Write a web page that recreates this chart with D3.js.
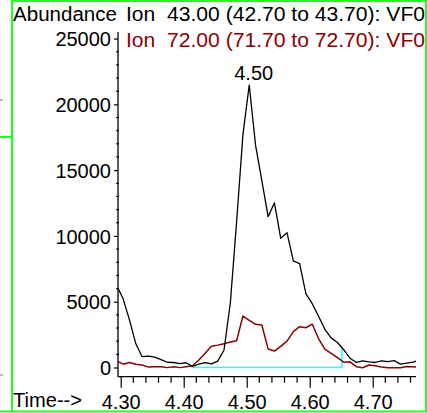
<!DOCTYPE html>
<html>
<head>
<meta charset="utf-8">
<script src="https://cdn.jsdelivr.net/npm/d3@7"></script>
<style>
  html, body { margin: 0; padding: 0; background: #fff; }
  svg { display: block; }
  text { font-family: "Liberation Sans", Arial, sans-serif; }
</style>
</head>
<body>
<svg id="chart" width="427" height="413"></svg>
<script>
// Extracted ion chromatogram: scan times (min) and abundances for two ions
const scanTimes = [4.294, 4.304, 4.314, 4.324, 4.334, 4.344, 4.354, 4.364, 4.374, 4.384,
  4.394, 4.404, 4.414, 4.424, 4.434, 4.444, 4.454, 4.464, 4.474, 4.484,
  4.494, 4.504, 4.514, 4.524, 4.534, 4.544, 4.554, 4.564, 4.574, 4.584,
  4.594, 4.604, 4.614, 4.624, 4.634, 4.644, 4.654, 4.664, 4.674, 4.684,
  4.694, 4.704, 4.714, 4.724, 4.734, 4.744, 4.754, 4.764, 4.774];

const ion43 = [6200, 5200, 3600, 1800, 820, 870, 780, 600, 400, 380,
  300, 360, 80, 250, 370, 280, 480, 1330, 4900, 11100,
  17700, 21470, 16900, 14200, 11460, 12520, 9820, 10240, 8100, 7900,
  5600, 4850, 3900, 2900, 2250, 1900, 1350, 700, 380, 500,
  420, 380, 500, 450, 520, 260, 330, 400, 550];

const ion72 = [500, 250, 380, 250, 190, 30, 60, 60, -10, 60,
  -10, 60, 130, 570, 1090, 1620, 1700, 1810, 1930, 2040,
  3910, 3590, 3280, 3230, 1400, 1250, 1600, 2000, 2720, 3100,
  3020, 3300, 2200, 1400, 1080, 750, 400, 430, 60, -15,
  190, 130, 40, -15, -15, -15, 80, 60, 0];

const traceLabels = ["Ion  43.00 (42.70 to 43.70): VF0", "Ion  72.00 (71.70 to 72.70): VF0"];
const xMajorTicks = [4.30, 4.40, 4.50, 4.60, 4.70];
const yMajorTicks = [0, 5000, 10000, 15000, 20000, 25000];
const integrationStart = 4.412;   // baseline of the integrated peak
const integrationEnd = 4.651;

const svg = d3.select("#chart");
const font = 20;

const x = d3.scaleLinear().domain([4.2957, 4.7687]).range([118, 416]);
const y = d3.scaleLinear().domain([-700, 25500]).range([376.7, 32]);

// outer frame
const green = "#22ff22";
svg.append("rect").attr("x", 12).attr("y", 1).attr("width", 414).attr("height", 410.5)
  .attr("fill", "none").attr("stroke", green).attr("stroke-width", 2);
svg.append("line").attr("x1", 0).attr("x2", 12).attr("y1", 137).attr("y2", 137)
  .attr("stroke", green).attr("stroke-width", 2);
svg.append("line").attr("x1", 0).attr("x2", 12).attr("y1", 411.5).attr("y2", 411.5)
  .attr("stroke", green).attr("stroke-width", 2);
[100, 375].forEach(v => svg.append("line").attr("x1", 0).attr("x2", 3)
  .attr("y1", v).attr("y2", v).attr("stroke", "#777").attr("stroke-width", 1));

// clip for traces
svg.append("clipPath").attr("id", "plotclip").append("rect")
  .attr("x", 118).attr("y", 20).attr("width", 298).attr("height", 357);

// y axis
const yAxis = d3.axisLeft(y).tickValues(yMajorTicks).tickSize(4).tickPadding(3)
  .tickFormat(d3.format("d"));
const gy = svg.append("g").attr("transform", "translate(118,0)").call(yAxis);
gy.select(".domain").attr("d", `M0,${y.range()[1]}V${y.range()[0]}`).attr("stroke-width", 1.3);
gy.selectAll(".tick line").attr("stroke-width", 1.2);
gy.selectAll(".tick text").attr("font-size", font).attr("font-family", "Liberation Sans, Arial, sans-serif")
  .attr("fill", "#000").attr("dy", "0.36em");
const yMinor = d3.range(1000, 25001, 1000).filter(v => v % 5000 !== 0);
svg.append("g").selectAll("line").data(yMinor).join("line")
  .attr("x1", 116).attr("x2", 119).attr("y1", d => y(d)).attr("y2", d => y(d))
  .attr("stroke", "#000").attr("stroke-width", 1);

// x axis
const xAxis = d3.axisBottom(x).tickValues(xMajorTicks).tickSize(11).tickPadding(7)
  .tickFormat(d3.format(".2f"));
const gx = svg.append("g").attr("transform", `translate(0,${y.range()[0]})`).call(xAxis);
gx.select(".domain").attr("d", `M${x.range()[0]},0H${x.range()[1]}`).attr("stroke-width", 1.3);
gx.selectAll(".tick line").attr("stroke-width", 1.2);
gx.selectAll(".tick text").attr("font-size", font).attr("font-family", "Liberation Sans, Arial, sans-serif")
  .attr("fill", "#000");
const xMinor = d3.range(4.32, 4.77, 0.02).filter(v => Math.abs(v * 10 - Math.round(v * 10)) > 1e-6);
svg.append("g").selectAll("line").data(xMinor).join("line")
  .attr("x1", d => x(d)).attr("x2", d => x(d))
  .attr("y1", y.range()[0]).attr("y2", y.range()[0] + 6)
  .attr("stroke", "#000").attr("stroke-width", 1.2);

// axis titles
svg.append("text").attr("x", 13).attr("y", 21).attr("font-size", font)
  .attr("textLength", 104).attr("lengthAdjust", "spacingAndGlyphs").text("Abundance");
svg.append("text").attr("x", 13).attr("y", 407).attr("font-size", font)
  .attr("textLength", 69).attr("lengthAdjust", "spacingAndGlyphs").text("Time-->");

// trace legends
svg.append("text").attr("x", 126).attr("y", 21).attr("font-size", font).attr("fill", "#000")
  .attr("xml:space", "preserve").style("white-space", "pre")
  .attr("textLength", 299).attr("lengthAdjust", "spacingAndGlyphs").text(traceLabels[0]);
svg.append("text").attr("x", 126).attr("y", 47).attr("font-size", font).attr("fill", "#8b0000")
  .attr("xml:space", "preserve").style("white-space", "pre")
  .attr("textLength", 299).attr("lengthAdjust", "spacingAndGlyphs").text(traceLabels[1]);

// traces
const plot = svg.append("g").attr("clip-path", "url(#plotclip)");
const line = vals => d3.line().x((d, i) => x(scanTimes[i])).y(d => y(d))(vals);

// integration baseline
const endHeight = (() => {
  const i = d3.bisectLeft(scanTimes, integrationEnd);
  const t0 = scanTimes[i - 1], t1 = scanTimes[i];
  return ion43[i - 1] + (ion43[i] - ion43[i - 1]) * (integrationEnd - t0) / (t1 - t0);
})();
plot.append("path")
  .attr("d", d3.line().x(d => x(d[0])).y(d => y(d[1]))(
    [[integrationStart, 0], [integrationEnd, 0], [integrationEnd, endHeight]]))
  .attr("fill", "none").attr("stroke", "#22ffff").attr("stroke-width", 1.6);

plot.append("path").attr("d", line(ion72)).attr("fill", "none")
  .attr("stroke", "#8b0000").attr("stroke-width", 1.5).attr("stroke-linejoin", "round");
plot.append("path").attr("d", line(ion43)).attr("fill", "none")
  .attr("stroke", "#000").attr("stroke-width", 1.3).attr("stroke-linejoin", "round");

// retention time label of the main peak
const peakIdx = d3.maxIndex(ion43);
svg.append("text").attr("x", x(scanTimes[peakIdx]) + 4.5).attr("y", y(ion43[peakIdx]) - 5)
  .attr("text-anchor", "middle").attr("font-size", font)
  .text(d3.format(".2f")(scanTimes[peakIdx]));
</script>
</body>
</html>
